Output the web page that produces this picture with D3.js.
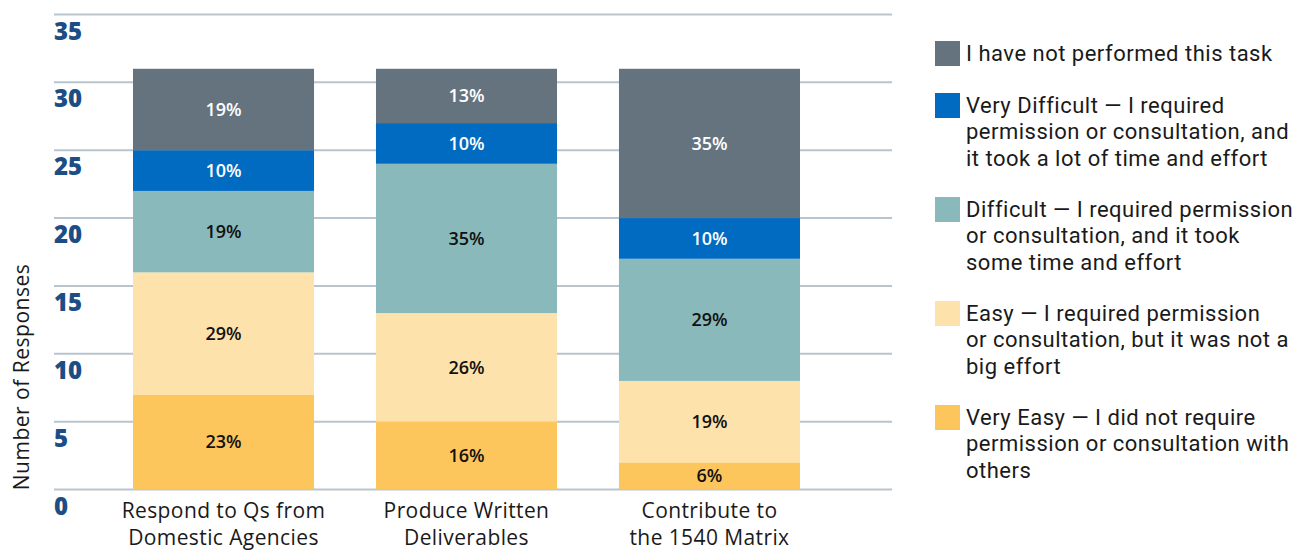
<!DOCTYPE html>
<html>
<head>
<meta charset="utf-8">
<script src="https://cdn.jsdelivr.net/npm/d3@7"></script>
<style>
  html, body { margin: 0; padding: 0; background: #ffffff; }
  svg { display: block; }
  text { font-family: "Open Sans", "Lato", sans-serif; }
  .legend-text { font-family: "Roboto", "Open Sans", sans-serif; }
</style>
</head>
<body>
<svg id="chart" width="1302" height="551"></svg>
<script>
// Task categories (two-line labels under each bar)
const categories = ["Respond to Qs from Domestic Agencies", "Produce Written Deliverables", "Contribute to the 1540 Matrix"];
const categoryLines = [["Respond to Qs from", "Domestic Agencies"], ["Produce Written", "Deliverables"], ["Contribute to", "the 1540 Matrix"]];

// Response levels, stacked bottom to top
const levels = ["Very Easy", "Easy", "Difficult", "Very Difficult", "Not performed"];

// Number of responses per level, one value per category
const veryEasy      = [7, 5, 2];
const easy          = [9, 8, 6];
const difficult     = [6, 11, 9];
const veryDifficult = [3, 3, 3];
const notPerformed  = [6, 4, 11];

const yTicks = [0, 5, 10, 15, 20, 25, 30, 35];

const legendLabels = [
  ["I have not performed this task"],
  ["Very Difficult \u2014 I required", "permission or consultation, and", "it took a lot of time and effort"],
  ["Difficult \u2014 I required permission", "or consultation, and it took", "some time and effort"],
  ["Easy \u2014 I required permission", "or consultation, but it was not a", "big effort"],
  ["Very Easy \u2014 I did not require", "permission or consultation with", "others"]
];

const colors = {
  "Very Easy": "#fdc65c",
  "Easy": "#fde2ab",
  "Difficult": "#89b9ba",
  "Very Difficult": "#006bc1",
  "Not performed": "#65737f"
};
const labelColors = {
  "Very Easy": "#111111",
  "Easy": "#111111",
  "Difficult": "#111111",
  "Very Difficult": "#ffffff",
  "Not performed": "#ffffff"
};

const rows = categories.map((c, i) => ({
  category: c,
  "Very Easy": veryEasy[i],
  "Easy": easy[i],
  "Difficult": difficult[i],
  "Very Difficult": veryDifficult[i],
  "Not performed": notPerformed[i]
}));

const svg = d3.select("#chart");

const y = d3.scaleLinear().domain([0, 35]).range([489.5, 14.5]);
const x = d3.scaleBand().domain(categories).range([133, 800]).paddingInner(0.255).paddingOuter(0);

// Horizontal gridlines
svg.append("g")
  .selectAll("line")
  .data(yTicks)
  .join("line")
  .attr("x1", 54)
  .attr("x2", 892)
  .attr("y1", d => y(d))
  .attr("y2", d => y(d))
  .attr("stroke", "#b9c5ce")
  .attr("stroke-width", 2);

// Tick labels sit just below their gridline
svg.append("g")
  .selectAll("text")
  .data(yTicks)
  .join("text")
  .attr("x", 54)
  .attr("y", d => y(d) + 25)
  .attr("fill", "#1c4e85")
  .attr("font-size", 24)
  .attr("font-weight", 800)
  .text(d => d);

// Stacked bars
const series = d3.stack().keys(levels)(rows);

const layers = svg.append("g")
  .selectAll("g")
  .data(series)
  .join("g")
  .attr("fill", s => colors[s.key]);

layers.selectAll("rect")
  .data(s => s.map(d => Object.assign({ key: s.key }, d)))
  .join("rect")
  .attr("x", d => x(d.data.category))
  .attr("width", x.bandwidth())
  .attr("y", d => y(d[1]))
  .attr("height", d => y(d[0]) - y(d[1]));

// Percentage labels in each segment
layers.selectAll("text")
  .data(s => s.map(d => Object.assign({ key: s.key }, d)))
  .join("text")
  .attr("x", d => x(d.data.category) + x.bandwidth() / 2)
  .attr("y", d => (y(d[0]) + y(d[1])) / 2)
  .attr("dy", "0.35em")
  .attr("text-anchor", "middle")
  .attr("font-size", 18)
  .attr("font-weight", 600)
  .attr("fill", d => labelColors[d.key])
  .text(d => {
    const total = levels.reduce((a, k) => a + d.data[k], 0);
    return Math.round((d[1] - d[0]) / total * 100) + "%";
  });

// Category labels
const cat = svg.append("g")
  .selectAll("text")
  .data(categories)
  .join("text")
  .attr("x", d => x(d) + x.bandwidth() / 2)
  .attr("y", 518)
  .attr("text-anchor", "middle")
  .attr("font-size", 21)
  .attr("letter-spacing", 0.4)
  .attr("fill", "#1a1a1a");
cat.selectAll("tspan")
  .data((d, i) => categoryLines[i])
  .join("tspan")
  .attr("x", function () { return d3.select(this.parentNode).attr("x"); })
  .attr("dy", (d, i) => i === 0 ? 0 : 27)
  .text(d => d);

// Y axis title
svg.append("text")
  .attr("transform", "translate(29,377) rotate(-90)")
  .attr("text-anchor", "middle")
  .attr("font-size", 21)
  .attr("letter-spacing", 0.5)
  .attr("fill", "#1a1a1a")
  .text("Number of Responses");

// Legend
const legendOrder = ["Not performed", "Very Difficult", "Difficult", "Easy", "Very Easy"];
const legendTop = [41, 93, 197, 301, 405];
const lg = svg.append("g")
  .selectAll("g")
  .data(legendOrder)
  .join("g")
  .attr("transform", (d, i) => `translate(935,${legendTop[i]})`);
lg.append("rect")
  .attr("width", 25)
  .attr("height", 25)
  .attr("fill", d => colors[d]);
lg.append("text")
  .attr("class", "legend-text")
  .attr("x", 31)
  .attr("y", 20)
  .attr("font-size", 22)
  .attr("letter-spacing", 0.5)
  .attr("fill", "#1a1a1a")
  .selectAll("tspan")
  .data((d, i) => legendLabels[i])
  .join("tspan")
  .attr("x", 31)
  .attr("dy", (d, i) => i === 0 ? 0 : 26.3)
  .text(d => d);
</script>
</body>
</html>
